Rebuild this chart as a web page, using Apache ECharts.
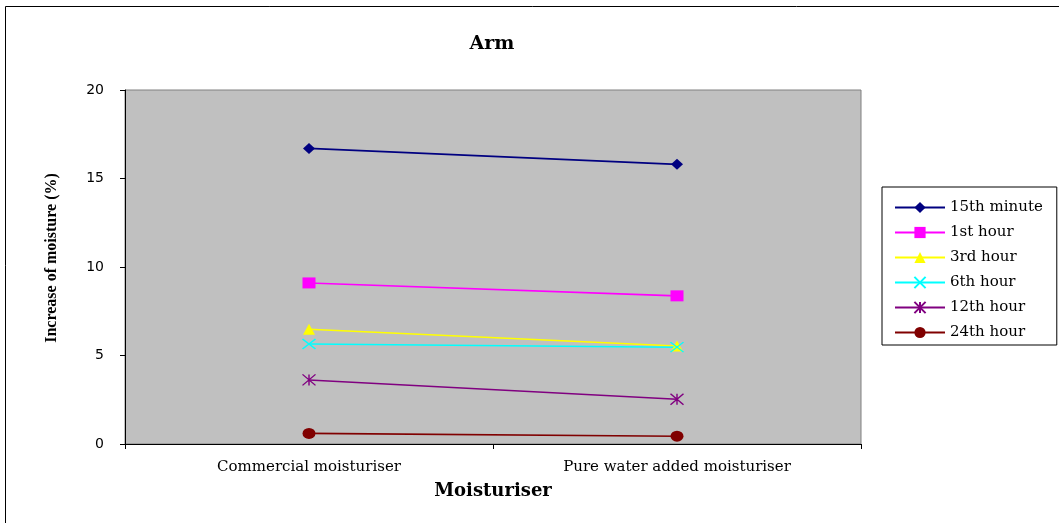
<!DOCTYPE html>
<html>
<head>
<meta charset="utf-8">
<script src="https://cdn.jsdelivr.net/npm/echarts@6/dist/echarts.min.js"></script>
<style>html,body{margin:0;padding:0;background:#fff}#c{width:1059px;height:523px}</style>
</head>
<body>
<div id="c"></div>
<script>
const categories = ['Commercial moisturiser', 'Pure water added moisturiser'];
const seriesNames = ['15th minute', '1st hour', '3rd hour', '6th hour', '12th hour', '24th hour'];
const v15min = [16.7, 15.8];
const v1h = [9.1, 8.37];
const v3h = [6.48, 5.54];
const v6h = [5.65, 5.47];
const v12h = [3.62, 2.53];
const v24h = [0.6, 0.44];
const yTicks = [0, 5, 10, 15, 20];

const colors = ['#000080', '#FF00FF', '#FFFF00', '#00FFFF', '#800080', '#800000'];
const symbols = ['diamond', 'rect', 'triangle',
  'path://M0,0L10,10M10,0L0,10',
  'path://M0,0L10,10M10,0L0,10M5,0L5,10',
  'circle'];
const sizes = [[12, 11], [13, 11], [12, 11], [13, 10], [13, 11], [13, 11]];
const values = [v15min, v1h, v3h, v6h, v12h, v24h];

const chart = echarts.init(document.getElementById('c'));
chart.setOption({
  animation: false,
  backgroundColor: '#fff',
  title: {
    text: 'Arm', left: 487, top: 30, textAlign: 'center',
    textStyle: {fontFamily: 'DejaVu Serif', fontWeight: 'bold', fontSize: 19, color: '#000'}
  },
  graphic: [{
    type: 'rect', shape: {x: 5.5, y: 6.5, width: 1200, height: 700},
    style: {fill: 'none', stroke: '#000', lineWidth: 1}, silent: true, z: -1
  }, {
    type: 'text', x: 52, y: 258, rotation: Math.PI / 2, silent: true,
    style: {text: 'Increase of moisture (%)', align: 'center', verticalAlign: 'middle',
      font: 'bold 16px "Liberation Serif"', fill: '#000'}
  }],
  grid: {
    left: 125, top: 90, right: 198, bottom: 79, show: true,
    backgroundColor: '#C0C0C0', borderColor: '#808080', borderWidth: 1
  },
  legend: {
    orient: 'vertical', left: 882, top: 187,
    padding: [13, 14, 5, 12],
    borderColor: '#000', borderWidth: 1, backgroundColor: '#fff',
    itemWidth: 50, itemHeight: 14, itemGap: 10,
    textStyle: {fontFamily: 'DejaVu Serif', fontSize: 15, color: '#000'},
    data: seriesNames
  },
  xAxis: {
    type: 'category', data: categories, boundaryGap: true,
    name: 'Moisturiser', nameLocation: 'middle', nameGap: 38,
    nameTextStyle: {fontFamily: 'DejaVu Serif', fontWeight: 'bold', fontSize: 18, color: '#000'},
    axisLine: {lineStyle: {color: '#000', width: 1}},
    axisTick: {show: true, length: 5, lineStyle: {color: '#000'}},
    axisLabel: {fontFamily: 'DejaVu Serif', fontSize: 15, color: '#000', margin: 16}
  },
  yAxis: {
    type: 'value', min: 0, max: 20, interval: 5,
    axisLine: {show: true, lineStyle: {color: '#000', width: 1}},
    axisTick: {show: true, length: 5, lineStyle: {color: '#000'}},
    splitLine: {show: false},
    axisLabel: {fontFamily: 'DejaVu Sans', fontSize: 14, color: '#000', margin: 21,
      formatter: v => yTicks.includes(v) ? String(v) : ''}
  },
  series: seriesNames.map((n, i) => ({
    name: n, type: 'line', data: values[i],
    symbol: symbols[i], symbolSize: sizes[i], showAllSymbol: true,
    lineStyle: {color: colors[i], width: 1.6},
    itemStyle: {color: colors[i], borderColor: colors[i], borderWidth: (i === 3 || i === 4) ? 1.3 : 0},
    emphasis: {disabled: true}
  }))
});
</script>
</body>
</html>
